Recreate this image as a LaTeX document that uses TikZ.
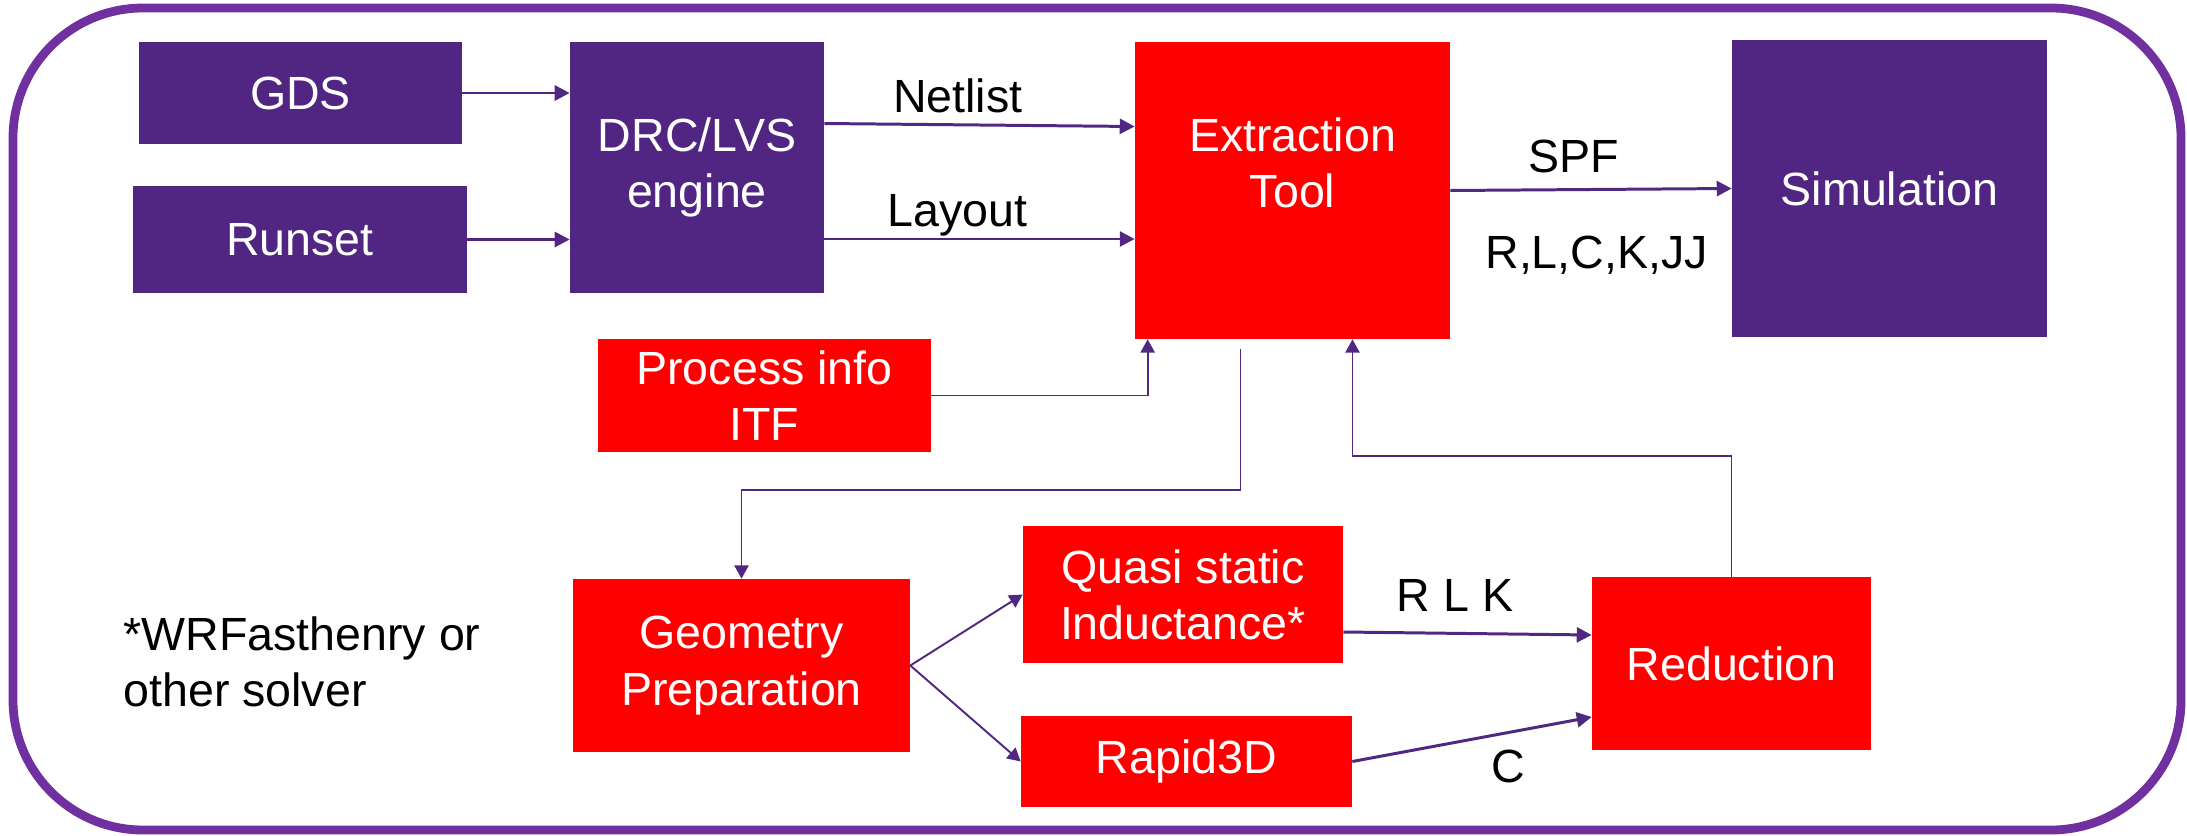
\documentclass[tikz,border=0pt]{standalone}
\usepackage{fontspec}
\setmainfont{Liberation Sans}
\usetikzlibrary{positioning, calc, arrows.meta}
\definecolor{boxpurple}{RGB}{81,38,131}
\definecolor{framepurple}{RGB}{112,48,160}
\definecolor{linepurple}{RGB}{80,40,130}
\definecolor{boxred}{RGB}{255,0,0}

\begin{document}
\begin{tikzpicture}[
    x=0.02cm, y=-0.02cm,
    font=\fontsize{26.5}{32}\selectfont,
    purplebox/.style={fill=boxpurple, text=white, inner sep=0pt, align=center},
    redbox/.style={fill=boxred, text=white, inner sep=0pt, align=center},
    flow/.style={draw=linepurple, line width=1.7pt, -{Triangle[length=8.5pt,width=8.5pt]}},
    thinflow/.style={draw=linepurple, line width=1.1pt, -{Triangle[length=7.5pt,width=8pt]}},
    edgelabel/.style={text=black, text depth=0pt}]

  \useasboundingbox (0,0) rectangle (2187,835);

  % frame
  \draw[framepurple, line width=5pt, rounded corners=2.6cm] (13,8) rectangle (2181,830);

  % inputs
  \node[purplebox, minimum width=6.46cm, minimum height=2.04cm] at (300.5,93) (gds) {GDS};
  \node[purplebox, minimum width=6.68cm, minimum height=2.14cm] at (300,239.5) (runset) {Runset};
  \node[purplebox, minimum width=5.08cm, minimum height=5.02cm] at (697,167.5) (drc) {DRC/LVS\\engine};

  % extraction
  \node[redbox, minimum width=6.3cm, minimum height=5.94cm] at (1292.5,190.5) (ext) {};
  \node[text=white, align=center] at ($(ext)+(0,-28)$) (ext-text) {Extraction\\Tool};
  \node[purplebox, minimum width=6.3cm, minimum height=5.94cm] at (1889.5,188.5) (sim) {Simulation};
  \node[redbox, minimum width=6.66cm, minimum height=2.26cm] at (764.5,395.5) (proc) {Process info\\ITF};

  % solvers
  \node[redbox, minimum width=6.74cm, minimum height=3.46cm] at (741.5,665.5) (geo) {Geometry\\Preparation};
  \node[redbox, minimum width=6.4cm, minimum height=2.74cm] at (1183,594.5) (quasi) {Quasi static\\Inductance*};
  \node[redbox, minimum width=6.62cm, minimum height=1.82cm] at (1186.5,761.5) (rapid) {Rapid3D};
  \node[redbox, minimum width=5.58cm, minimum height=3.46cm] at (1731.5,663.5) (red) {Reduction};
  \node[align=left] at (302,662) (note) {*WRFasthenry or\\other solver};

  % connectors
  \draw[flow] (gds.east) -- (gds.east -| drc.west);
  \draw[flow] (runset.east) -- (runset.east -| drc.west);
  \draw[flow] ($(drc.east)+(0,-44)$) -- node[edgelabel, above, yshift=3pt, pos=0.43] {Netlist} ($(ext.west)+(0,-64)$);
  \draw[flow] ($(drc.east)+(0,71.5)$) -- node[edgelabel, above, yshift=3pt, pos=0.43] {Layout} ($(ext.west)+(0,48.5)$);
  \draw[flow] (ext.east) -- node[edgelabel, above, yshift=5.5pt, pos=0.44] {SPF}
    node[edgelabel, below=0.78cm, pos=0.52] {R,L,C,K,JJ} (sim.west);
  \draw[thinflow] (proc.east) -| ($(ext.south west)+(13,0)$);
  \draw[thinflow] ($(ext.south)+(-52,10)$) |- ($(geo.north)+(0,-89)$) -- (geo.north);
  \draw[thinflow] (geo.east) -- (quasi.west);
  \draw[thinflow] (geo.east) -- (rapid.west);
  \draw[flow] ($(quasi.east)+(0,37.5)$) -- node[edgelabel, above, yshift=8pt, pos=0.45] {R L K} ($(red.west)+(0,-28.5)$);
  \draw[flow] (rapid.east) -- node[edgelabel, below, yshift=-5.5pt, pos=0.65] {C} ($(red.west)+(0,53.5)$);
  \draw[thinflow] (red.north) |- ($(ext.south)+(60,117)$) -- ($(ext.south)+(60,0)$);
\end{tikzpicture}
\end{document}
